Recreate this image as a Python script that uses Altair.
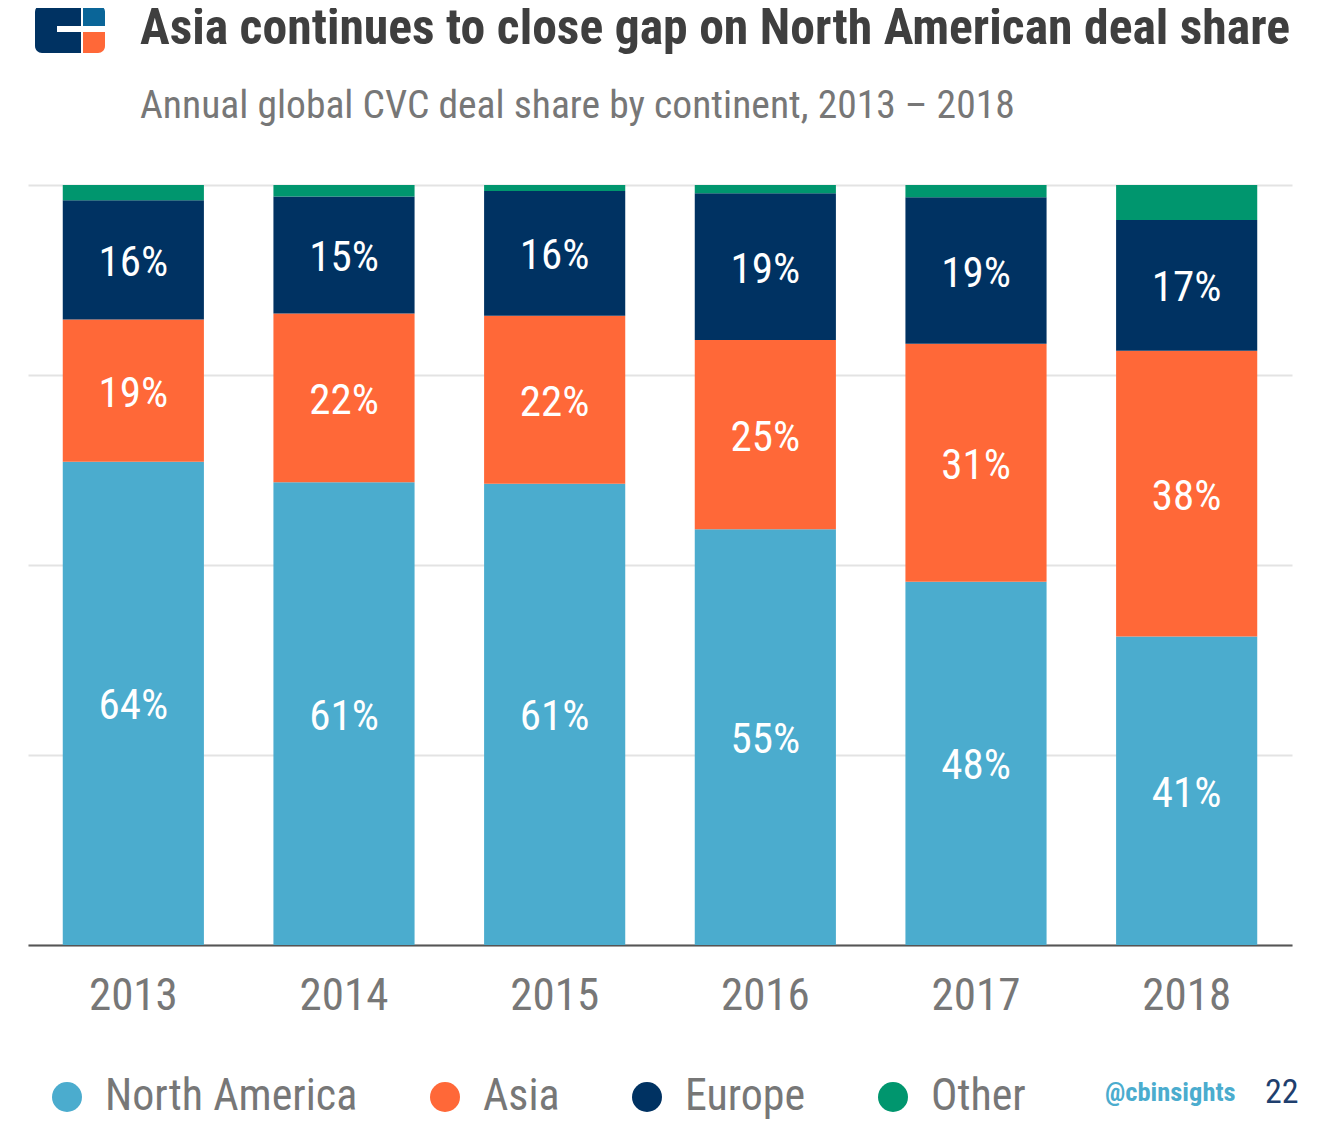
import altair as alt
import pandas as pd

years = ["2013", "2014", "2015", "2016", "2017", "2018"]
continents = ["North America", "Asia", "Europe", "Other"]
north_america = [63.6, 60.9, 60.7, 54.7, 47.8, 40.6]
asia = [18.7, 22.2, 22.1, 24.9, 31.3, 37.6]
europe = [15.7, 15.4, 16.4, 19.3, 19.3, 17.2]
other = [2.0, 1.5, 0.8, 1.1, 1.6, 4.6]
colors = ["#4BACCE", "#FF6838", "#003262", "#00966E"]

title_text = "Asia continues to close gap on North American deal share"
subtitle_text = "Annual global CVC deal share by continent, 2013 \u2013 2018"

FONT = "Roboto Condensed, Roboto, sans-serif"

rows = []
series = [north_america, asia, europe, other]
for ci, (c, vals) in enumerate(zip(continents, series)):
    for y, v in zip(years, vals):
        rows.append({"year": y, "continent": c, "value": v, "order": ci})
df = pd.DataFrame(rows)

base = alt.Chart(df).transform_stack(
    stack="value", groupby=["year"], as_=["y0", "y1"],
    sort=[alt.SortField("order", order="ascending")]
).transform_calculate(mid="(datum.y0 + datum.y1) / 2")

x_enc = alt.X("year:N", sort=years, title=None,
              scale=alt.Scale(paddingInner=0.33, paddingOuter=0.165),
              axis=alt.Axis(labelFont=FONT, labelFontSize=45, labelColor="#777777",
                            labelPadding=28, ticks=False, domainColor="#555555",
                            domainWidth=2, labelAngle=0, grid=False))

bars = base.mark_bar(stroke=None).encode(
    x=x_enc,
    y=alt.Y("y0:Q", scale=alt.Scale(domain=[0, 100]), title=None,
            axis=alt.Axis(values=[0, 25, 50, 75, 100], labels=False, ticks=False,
                          domain=False, grid=True, gridColor="#e3e3e3", gridWidth=2)),
    y2="y1:Q",
    color=alt.Color("continent:N", sort=continents,
                    scale=alt.Scale(domain=continents, range=colors),
                    legend=alt.Legend(title=None, orient="none", legendX=17, legendY=890,
                                      direction="horizontal", symbolType="circle",
                                      symbolSize=900, symbolStrokeWidth=0,
                                      labelFont=FONT, labelFontSize=44,
                                      labelColor="#777777", labelOffset=16,
                                      columnPadding=65, labelLimit=400)),
)

labels = base.transform_filter(alt.datum.continent != "Other").transform_calculate(
    lbl="format(datum.value, '.0f') + '%'"
).mark_text(
    font=FONT, fontSize=43, color="white", baseline="middle", align="center", dy=3
).encode(
    x=alt.X("year:N", sort=years),
    y=alt.Y("mid:Q"),
    text="lbl:N",
)

tdf = pd.DataFrame({"t": [title_text]})
title = alt.Chart(tdf).mark_text(font=FONT, fontSize=49.7, fontWeight="bold", color="#3f3f3f",
                                 align="left", baseline="alphabetic").encode(
    text="t:N", x=alt.value(112), y=alt.value(-141))
sdf = pd.DataFrame({"t": [subtitle_text]})
subtitle = alt.Chart(sdf).mark_text(font=FONT, fontSize=39.6, color="#777777",
                                    align="left", baseline="alphabetic").encode(
    text="t:N", x=alt.value(112), y=alt.value(-67))

def box(x1, x2, y1, y2, color, **corners):
    return alt.Chart(pd.DataFrame({"a": [0]})).mark_rect(color=color, **corners).encode(
        x=alt.value(x1), x2=alt.value(x2), y=alt.value(y1), y2=alt.value(y2))

logo = (box(7, 53, -180, -132, "#003262", cornerRadiusTopLeft=7, cornerRadiusBottomLeft=7)
        + box(29, 54, -159, -153, "white")
        + box(55, 77, -180, -159, "#0A6598", cornerRadiusTopRight=7)
        + box(55, 77, -153, -132, "#FF6838", cornerRadiusBottomRight=7))

fdf = pd.DataFrame({"t": ["@cbinsights"]})
footer1 = alt.Chart(fdf).mark_text(font=FONT, fontSize=26.5, fontWeight="bold", color="#4BACCE",
                                   align="left", baseline="middle").encode(
    text="t:N", x=alt.value(1077), y=alt.value(908))
pdf = pd.DataFrame({"t": ["22"]})
footer2 = alt.Chart(pdf).mark_text(font=FONT, fontSize=34, color="#1F3F6E",
                                   align="left", baseline="middle").encode(
    text="t:N", x=alt.value(1237), y=alt.value(908))

chart = alt.layer(bars, labels, title, subtitle, logo, footer1, footer2).properties(
    width=1264, height=760, background="white",
    padding={"left": 20, "top": 177, "right": 20, "bottom": 178},
    autosize=alt.AutoSizeParams(type="none"),
).configure_view(stroke=None)

chart.save("out.html", embed_options={"renderer": "svg", "actions": False})
